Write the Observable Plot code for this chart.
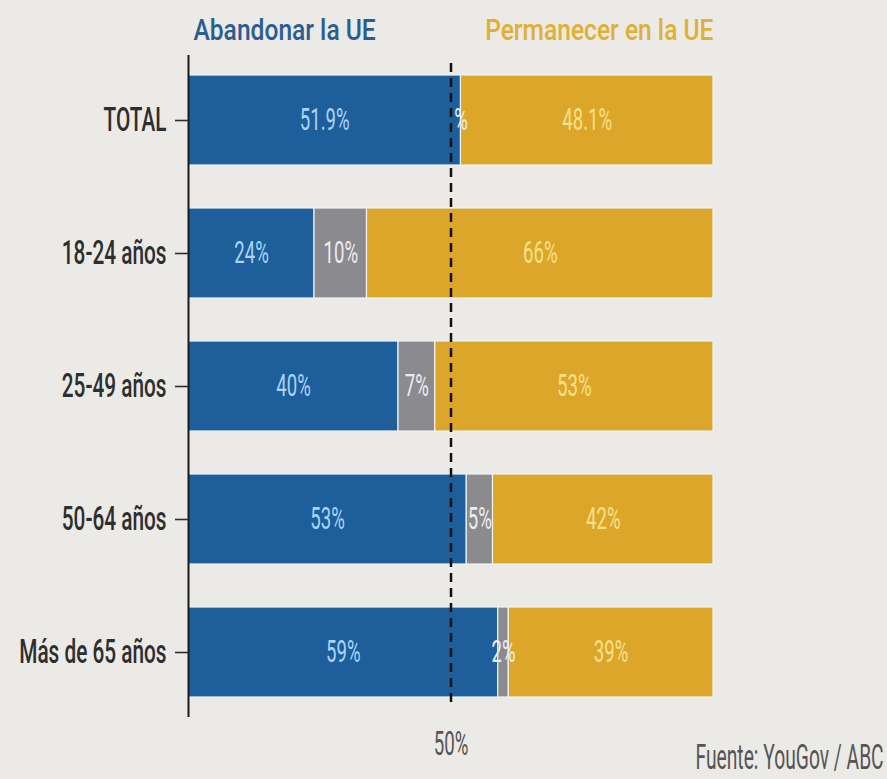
<!DOCTYPE html>
<html>
<head>
<meta charset="utf-8">
<script src="https://cdn.jsdelivr.net/npm/d3@7"></script>
<script src="https://cdn.jsdelivr.net/npm/@observablehq/plot@0.6"></script>
<style>
  html, body { margin: 0; padding: 0; background: #ebeae6; }
  #chart { width: 887px; height: 779px; }
</style>
</head>
<body>
<div id="chart"></div>
<script>
// ---- data ----
const categories = ["TOTAL", "18-24 años", "25-49 años", "50-64 años", "Más de 65 años"];
const seriesNames = ["Abandonar la UE", "Indecisos", "Permanecer en la UE"];
const leave = [51.9, 24, 40, 53, 59];
const undecided = [0, 10, 7, 5, 2];
const remain = [48.1, 66, 53, 42, 39];
const leaveLabels = ["51.9%", "24%", "40%", "53%", "59%"];
const undecidedLabels = ["%", "10%", "7%", "5%", "2%"];
const remainLabels = ["48.1%", "66%", "53%", "42%", "39%"];
const xTicks = [50];
const xTickLabels = ["50%"];
const sourceText = "Fuente: YouGov / ABC";

// ---- styles ----
const seriesColors = ["#1e5e9b", "#8b8a8e", "#dca62a"];
const labelColors = ["#a9d4f7", "#ececf0", "#f8e08a"];

// build stacked rows
const values = [leave, undecided, remain];
const labels = [leaveLabels, undecidedLabels, remainLabels];
const rows = [];
categories.forEach((c, i) => {
  let start = 0;
  seriesNames.forEach((s, k) => {
    const v = values[k][i];
    rows.push({cat: c, series: s, x1: start, x2: start + v, label: labels[k][i]});
    start += v;
  });
});

const font = "Roboto, 'Noto Sans', sans-serif";
// font sizes (also used to find each text group afterwards)
const FS_BAR = 31, FS_Y = 33, FS_X = 34, FS_HDR = 30, FS_SRC = 35;

const chart = Plot.plot({
  width: 887,
  height: 779,
  marginLeft: 188,
  marginRight: 174,
  marginTop: 55,
  marginBottom: 62,
  style: {background: "transparent", fontFamily: font, overflow: "visible"},
  x: {domain: [0, 100], axis: null},
  y: {domain: categories, paddingInner: 0.323, paddingOuter: 0.15, axis: null, label: null},
  marks: [
    ...seriesNames.map((s, k) => Plot.barX(rows.filter(r => r.series === s), {
      x1: "x1", x2: "x2", y: "cat",
      fill: seriesColors[k], stroke: "#eef3f8", strokeWidth: 1.2
    })),
    Plot.ruleX([0], {stroke: "#1a1a1a", strokeWidth: 2}),
    Plot.ruleX(xTicks, {stroke: "#111", strokeWidth: 2.5, strokeDasharray: "9,6", insetTop: 8, insetBottom: 9}),
    ...seriesNames.map((s, k) => Plot.text(rows.filter(r => r.series === s), {
      x: r => (r.x1 + r.x2) / 2, y: "cat", text: "label",
      fill: labelColors[k], fontSize: FS_BAR
    })),
    Plot.axisY({tickSize: 13, tickPadding: 9, fontSize: FS_Y, fontWeight: 500, color: "#2e2e2e", strokeWidth: 1.6, label: null}),
    Plot.axisX({ticks: xTicks, tickSize: 0, tickPadding: 13, fontSize: FS_X,
      tickFormat: d => xTickLabels[xTicks.indexOf(d)], color: "#555", label: null}),
    Plot.text([{x: 0, t: seriesNames[0]}], {x: "x", text: "t", frameAnchor: "top", textAnchor: "start",
      lineAnchor: "middle", dx: 5, dy: -25, fontSize: FS_HDR, fontWeight: 500, fill: "#2a5d90"}),
    Plot.text([{x: 100, t: seriesNames[2]}], {x: "x", text: "t", frameAnchor: "top", textAnchor: "end",
      lineAnchor: "middle", dy: -25, fontSize: FS_HDR, fontWeight: 500, fill: "#e0b034"}),
    Plot.text([sourceText], {frameAnchor: "bottom-right", textAnchor: "start", lineAnchor: "middle",
      dx: -18, dy: 40, fontSize: FS_SRC, fill: "#555"})
  ]
});

document.getElementById("chart").appendChild(chart);

// condense the type horizontally to match the narrow face of the reference
const squeezeBySize = {[FS_BAR]: 0.6, [FS_Y]: 0.63, [FS_X]: 0.55, [FS_HDR]: 0.82, [FS_SRC]: 0.55};
chart.querySelectorAll("text").forEach(t => {
  let el = t, fs = null;
  while (el && el !== chart) {
    const a = el.getAttribute && el.getAttribute("font-size");
    if (a) { fs = parseFloat(a); break; }
    el = el.parentNode;
  }
  const s = squeezeBySize[fs];
  if (!s) return;
  let tr = t.getAttribute("transform");
  if (!tr) {
    const x = +t.getAttribute("x") || 0, y = +t.getAttribute("y") || 0;
    t.removeAttribute("x"); t.removeAttribute("y");
    tr = `translate(${x},${y})`;
  }
  t.setAttribute("transform", tr + ` scale(${s},1)`);
});
</script>
</body>
</html>
